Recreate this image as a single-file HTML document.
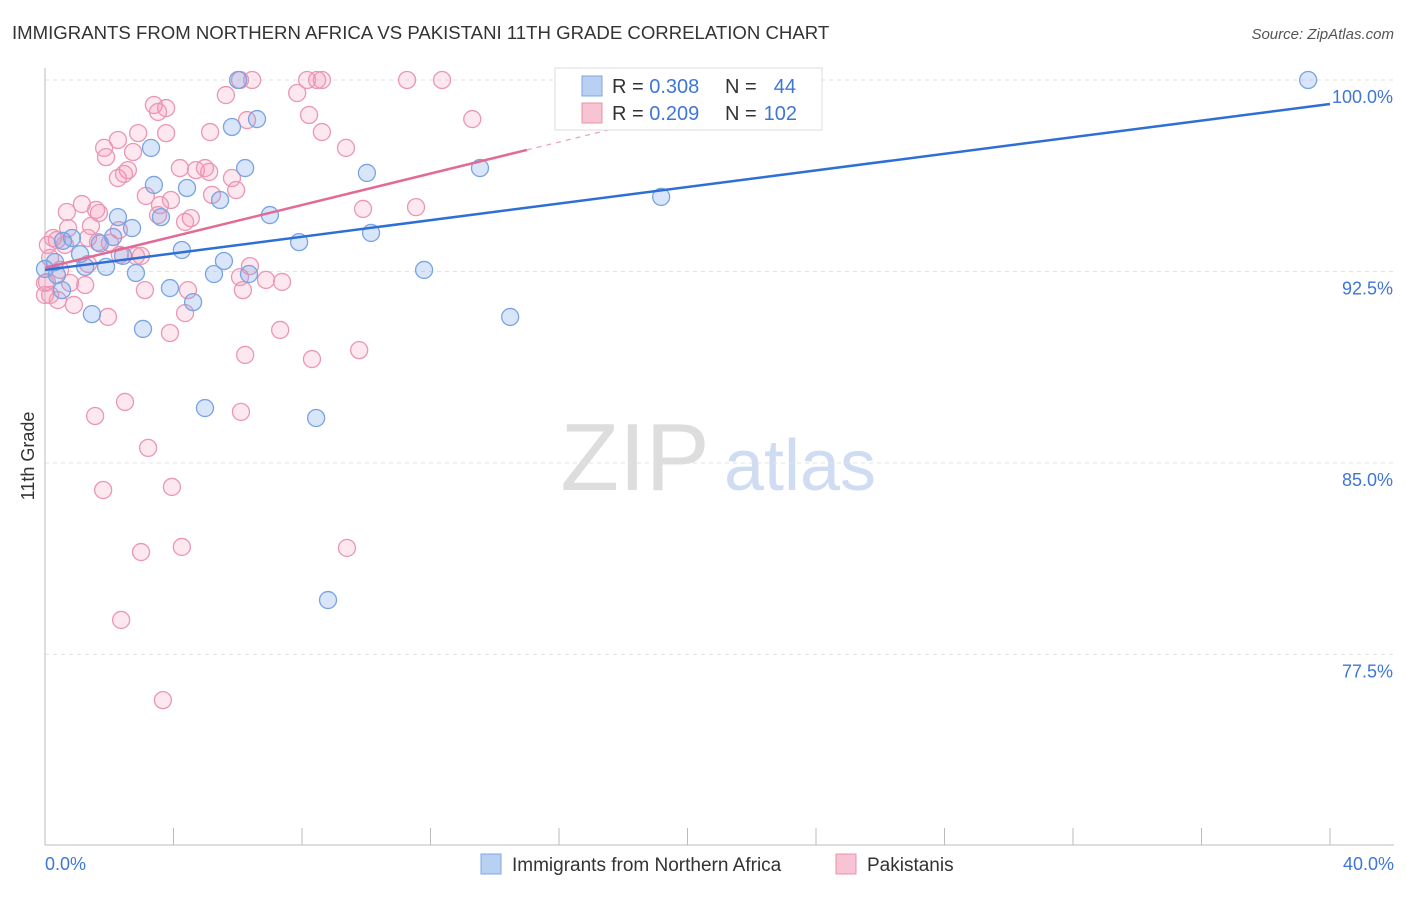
<!DOCTYPE html>
<html><head><meta charset="utf-8">
<style>
body{margin:0;background:#fff;font-family:"Liberation Sans",sans-serif;}
svg text{font-family:"Liberation Sans",sans-serif;}
</style></head>
<body>
<svg id="chart" width="1406" height="892" viewBox="0 0 1406 892" xmlns="http://www.w3.org/2000/svg">
<text x="12" y="39" font-size="18.6" fill="#333">IMMIGRANTS FROM NORTHERN AFRICA VS PAKISTANI 11TH GRADE CORRELATION CHART</text>
<text x="1394" y="39" font-size="15" fill="#555" font-style="italic" text-anchor="end">Source: ZipAtlas.com</text>
<text x="34" y="456" font-size="18" fill="#333" text-anchor="middle" transform="rotate(-90 34 456)">11th Grade</text>
<g>
<text x="635" y="490" font-size="96" fill="#ddd" font-family="Liberation Serif" text-anchor="middle">ZIP</text>
<text x="800" y="490" font-size="72" fill="#cfdcf2" text-anchor="middle">atlas</text>
</g>
<g id="grid"></g>
<g id="axes"></g>
<g id="points"></g>
<g id="lines"></g>
<g>
<rect x="555" y="68" width="267" height="62" fill="#fff" stroke="#ddd"/>
<rect x="582" y="76" width="20" height="20" fill="#b8d0f2" stroke="#7fa6e0"/>
<text x="612" y="93" font-size="20" fill="#333">R = <tspan fill="#3f76d6">0.308</tspan></text>
<text x="725" y="93" font-size="20" fill="#333">N =</text>
<text x="796" y="93" font-size="20" fill="#3f76d6" text-anchor="end">44</text>
<rect x="582" y="103" width="20" height="20" fill="#f8c4d4" stroke="#e891ad"/>
<text x="612" y="120" font-size="20" fill="#333">R = <tspan fill="#3f76d6">0.209</tspan></text>
<text x="725" y="120" font-size="20" fill="#333">N =</text>
<text x="797" y="120" font-size="20" fill="#3f76d6" text-anchor="end">102</text>
</g>
<g>
<rect x="481" y="854" width="20" height="20" fill="#b8d0f2" stroke="#7fa6e0"/>
<text x="512" y="871" font-size="19" fill="#333">Immigrants from Northern Africa</text>
<rect x="836" y="854" width="20" height="20" fill="#f8c4d4" stroke="#e891ad"/>
<text x="867" y="871" font-size="19" fill="#333">Pakistanis</text>
</g>
</svg>
<script>
const yTicks=[100,92.5,85,77.5];
const yTickLabels=["100.0%","92.5%","85.0%","77.5%"];
const xTickLabels=["0.0%","40.0%"];
const blueX=[6.01,39.32,6.60,5.82,3.30,6.23,10.02,13.54,3.39,4.42,5.45,19.18,2.27,3.61,7.00,2.71,10.15,0.84,7.91,2.12,4.26,2.43,1.09,0.31,1.25,1.90,5.57,2.83,5.26,6.35,11.80,0.37,3.89,0.53,4.61,1.46,14.48,3.05,4.98,8.44,8.81,0,0.56,1.71];
const blueY=[100,100,98.47,98.16,97.34,96.55,96.36,96.55,95.89,95.77,95.30,95.42,94.63,94.63,94.71,94.20,94.01,93.81,93.65,93.85,93.34,93.11,93.18,92.87,92.68,92.68,92.91,92.44,92.40,92.40,92.56,92.36,91.85,91.77,91.30,90.83,90.72,90.25,87.15,86.76,79.63,92.6,93.7,93.6];
const pinkX=[6.07,6.45,8.16,8.47,8.62,11.27,12.36,5.63,7.85,3.39,3.77,3.52,8.22,13.30,6.29,5.14,2.90,3.77,8.62,2.27,1.84,2.74,9.37,1.90,4.20,4.70,4.98,2.58,2.46,5.11,2.27,5.82,5.95,5.20,3.14,3.92,3.58,1.15,1.59,0.68,1.68,11.55,9.90,4.54,3.52,4.36,0.72,1.43,2.30,0.25,1.34,2.02,1.65,0.62,0.37,2.33,2.83,2.99,0.16,1.34,6.38,6.07,6.88,7.38,0.78,1.25,3.11,4.45,6.16,0.16,0.40,0.90,1.96,4.36,3.89,7.32,6.23,8.31,9.78,2.49,1.56,6.10,3.21,3.95,1.81,4.26,9.40,2.99,2.37,3.67,0,0,0.09,0.47,0.06];
const pinkY=[100,100,100,100,100,100,100,99.41,99.49,99.02,98.90,98.75,98.63,98.47,98.43,97.96,97.92,97.92,97.96,97.65,97.34,97.18,97.34,96.98,96.55,96.47,96.55,96.47,96.32,96.40,96.16,96.16,95.69,95.50,95.46,95.30,95.10,95.14,94.91,94.83,94.79,95.02,94.95,94.59,94.71,94.44,94.20,94.28,94.12,93.81,93.81,93.62,93.65,93.54,93.73,93.15,93.11,93.11,93.03,92.79,92.71,92.28,92.17,92.09,92.05,91.97,91.77,91.77,91.77,91.58,91.38,91.19,90.72,90.87,90.09,90.21,89.23,89.07,89.42,87.39,86.84,87.00,85.59,84.06,83.94,81.71,81.67,81.51,78.85,75.71,92.05,91.58,93.54,92.56,92.09];
const blueTrend=[92.56,99.06];   // value at x=0 and x=40
const pinkTrend=[92.64,0.308];   // intercept, slope per %
const NS="http://www.w3.org/2000/svg";
const sx=v=>45+v/40*1285;
const sy=v=>80+(100-v)*25.53;
function mk(tag,attrs,parent){const e=document.createElementNS(NS,tag);for(const k in attrs)e.setAttribute(k,attrs[k]);document.getElementById(parent).appendChild(e);return e;}
yTicks.forEach((t,i)=>{
  const g=mk('line',{x1:45,x2:1394,y1:sy(t),y2:sy(t),stroke:'#e3e3e3','stroke-dasharray':'4,4'},'grid');
  
  
  const l=mk('text',{x:1393,y:sy(t)+23,'font-size':18,fill:'#3f76d6','text-anchor':'end'},'grid');
  l.textContent=yTickLabels[i];
  
  
});
const ax=mk('line',{x1:45,x2:45,y1:68,y2:845,stroke:'#bbb'},'axes');


const bx=mk('line',{x1:45,x2:1394,y1:845,y2:845,stroke:'#bbb'},'axes');


for(let i=0;i<=10;i++){
  const t=mk('line',{x1:sx(i*4),x2:sx(i*4),y1:828,y2:845,stroke:'#bbb'},'axes');
  
  
}
[[0,'start',45],[40,'end',1394]].forEach((d,i)=>{
  const t=mk('text',{x:d[2],y:870,'font-size':18,fill:'#3f76d6','text-anchor':d[1]},'axes');
  t.textContent=xTickLabels[i];
  
  
});
pinkX.forEach((x,i)=>{
  const c=mk('circle',{cx:sx(x),cy:sy(pinkY[i]),r:8.5,fill:'rgba(244,150,180,0.22)',stroke:'#eb96b2','stroke-width':1.3},'points');
  
  
});
blueX.forEach((x,i)=>{
  const c=mk('circle',{cx:sx(x),cy:sy(blueY[i]),r:8.5,fill:'rgba(120,165,235,0.28)',stroke:'#79a3e3','stroke-width':1.3},'points');
  
  
});
const bl=mk('line',{x1:sx(0),y1:sy(blueTrend[0]),x2:sx(40),y2:sy(blueTrend[1]),stroke:'#2e6fd6','stroke-width':2.5},'lines');


const pl=mk('line',{x1:sx(0),y1:sy(pinkTrend[0]),x2:sx(15),y2:sy(pinkTrend[0]+15*pinkTrend[1]),stroke:'#e26a95','stroke-width':2.5},'lines');


const pd=mk('line',{x1:sx(15),y1:sy(pinkTrend[0]+15*pinkTrend[1]),x2:sx(22),y2:sy(pinkTrend[0]+22*pinkTrend[1]),stroke:'#eaa0ba','stroke-width':1.2,'stroke-dasharray':'5,5'},'lines');


</script>
</body></html>
